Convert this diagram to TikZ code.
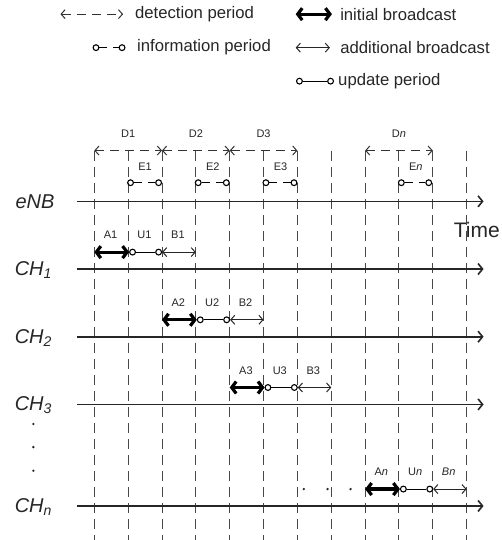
\documentclass[tikz,border=0pt]{standalone}
\usepackage{fontspec}
\setmainfont{Liberation Sans}
\usetikzlibrary{arrows.meta}

\begin{document}
\begin{tikzpicture}[x=33.85pt, y=33.85pt,
        vline/.style={black!72, line width=1pt, dash pattern=on 10pt off 6pt},
        timeaxis/.style={black!85, line width=1.6pt, -{Straight Barb[length=4.5pt,width=11pt]}},
        initial/.style={black, line width=3.2pt, {Straight Barb[length=4.5pt,width=12pt]}-{Straight Barb[length=4.5pt,width=12pt]}},
        additional/.style={black!85, line width=1pt, {Straight Barb[length=4pt,width=9pt]}-{Straight Barb[length=4pt,width=9pt]}},
        detect/.style={black!80, line width=1pt, dash pattern=on 9pt off 6pt, {Straight Barb[length=4pt,width=9pt]}-{Straight Barb[length=4pt,width=9pt]}},
        info/.style={black, line width=1.1pt, dash pattern=on 8pt off 6pt},
        update/.style={black, line width=1.1pt},
        ring/.style={circle, draw=black, line width=1.1pt, inner sep=0pt, minimum size=5.8pt},
        lbl/.style={font=\fontsize{11}{13}\selectfont, text=black!85, inner sep=0pt},
        legend/.style={font=\fontsize{16.7}{20}\selectfont, text=black!85, anchor=west, inner sep=0pt},
        chan/.style={font=\fontsize{20}{24}\selectfont\itshape, text=black!85, inner sep=0pt}
    ] %timing
    \useasboundingbox (-2.786,-1.005) rectangle (12.044,14.948);

    % legend
    \draw[detect] (-1.0,14.53) -- (0.85,14.53);
    \node[legend] (ldetect) at (1.2,14.53) {detection period};
    \node[ring] (linfol) at (0.05,13.54) {};
    \node[ring] (linfor) at (0.82,13.54) {};
    \draw[info] (linfol) -- (linfor);
    \node[legend] (linfo) at (1.26,13.54) {information period};
    \draw[initial] (5.95,14.53) -- (7.02,14.53);
    \node[legend] (linitial) at (7.26,14.53) {initial broadcast};
    \draw[additional] (5.95,13.54) -- (6.96,13.54);
    \node[legend] (ladd) at (7.26,13.54) {additional broadcast};
    \node[ring] (lupdl) at (6.06,12.55) {};
    \node[ring] (lupdr) at (6.98,12.55) {};
    \draw[update] (lupdl) -- (lupdr);
    \node[legend] (lupdate) at (7.2,12.55) {update period};

    % columns
    \draw[vline] (0,10.5) -- (0,-1.1);
    \draw[vline] (1,10.5) -- (1,-1.1);
    \draw[vline] (2,10.5) -- (2,-1.1);
    \draw[vline] (3,10.5) -- (3,-1.1);
    \draw[vline] (4,10.5) -- (4,-1.1);
    \draw[vline] (5,10.5) -- (5,-1.1);
    \draw[vline] (6,10.5) -- (6,-1.1);
    \draw[vline] (7,10.5) -- (7,-1.1);
    \draw[vline] (8,10.5) -- (8,-1.1);
    \draw[vline] (9,10.5) -- (9,-1.1);
    \draw[vline] (10,10.5) -- (10,-1.1);
    \draw[vline] (11,10.5) -- (11,-1.1);

    % time axes
    \draw[timeaxis] (-0.5,9) -- (11.5,9);
    \draw[timeaxis] (-0.5,7) -- (11.5,7);
    \draw[timeaxis] (-0.5,5) -- (11.5,5);
    \draw[timeaxis] (-0.5,3) -- (11.5,3);
    \draw[timeaxis] (-0.5,0) -- (11.5,0);

    \node[chan] (enb) at (-1.75,9) {eNB};
    \node[chan] (ch1) at (-1.8,6.97) {CH\textsubscript{1}};
    \node[chan] (ch2) at (-1.8,4.97) {CH\textsubscript{2}};
    \node[chan] (ch3) at (-1.8,2.97) {CH\textsubscript{3}};
    \node[chan] (chn) at (-1.8,-0.03) {CH\textsubscript{\itshape n}};
    \node[font=\fontsize{21}{24}\selectfont, text=black!85, inner sep=0pt] (time) at (11.3,8.15) {Time};

    \fill[black!85] (-1.8,2.42) circle (1.3pt);
    \fill[black!85] (-1.8,1.74) circle (1.3pt);
    \fill[black!85] (-1.8,1.04) circle (1.3pt);

    % detection periods
    \draw[detect] (0,10.5) -- (2,10.5);
    \draw[detect] (2,10.5) -- (4,10.5);
    \draw[detect] (4,10.5) -- (6,10.5);
    \draw[detect] (8,10.5) -- (10,10.5);
    \node[lbl] (d1) at (1,11) {D1};
    \node[lbl] (d2) at (3,11) {D2};
    \node[lbl] (d3) at (5,11) {D3};
    \node[lbl] (dn) at (9,11) {D\textit{n}};

    % information periods
    \node[ring] (e1l) at (1.07,9.55) {};
    \node[ring] (e1r) at (1.9,9.55) {};
    \draw[info] (e1l) -- (e1r);
    \node[ring] (e2l) at (3.07,9.55) {};
    \node[ring] (e2r) at (3.9,9.55) {};
    \draw[info] (e2l) -- (e2r);
    \node[ring] (e3l) at (5.07,9.55) {};
    \node[ring] (e3r) at (5.9,9.55) {};
    \draw[info] (e3l) -- (e3r);
    \node[ring] (enl) at (9.07,9.55) {};
    \node[ring] (enr) at (9.88,9.55) {};
    \draw[info] (enl) -- (enr);
    \node[lbl] (e1) at (1.5,10.02) {E1};
    \node[lbl] (e2) at (3.5,10.02) {E2};
    \node[lbl] (e3) at (5.5,10.02) {E3};
    \node[lbl] (en) at (9.5,10.02) {E\textit{n}};

    % CH1
    \node[ring] (u1l) at (1.13,7.5) {};
    \node[ring] (u1r) at (1.9,7.5) {};
    \draw[initial] (0,7.5) -- (u1l);
    \draw[update] (u1l) -- (u1r);
    \draw[additional] (u1r.east) -- (3,7.5);
    \node[lbl] (a1) at (0.48,8.01) {A1};
    \node[lbl] (u1) at (1.48,8.01) {U1};
    \node[lbl] (b1) at (2.47,8.01) {B1};

    % CH2
    \node[ring] (u2l) at (3.13,5.5) {};
    \node[ring] (u2r) at (3.91,5.5) {};
    \draw[initial] (2,5.5) -- (u2l);
    \draw[update] (u2l) -- (u2r);
    \draw[additional] (u2r.east) -- (5,5.5);
    \node[lbl] (a2) at (2.48,6.01) {A2};
    \node[lbl] (u2) at (3.48,6.01) {U2};
    \node[lbl] (b2) at (4.47,6.01) {B2};

    % CH3
    \node[ring] (u3l) at (5.13,3.5) {};
    \node[ring] (u3r) at (5.91,3.5) {};
    \draw[initial] (4,3.5) -- (u3l);
    \draw[update] (u3l) -- (u3r);
    \draw[additional] (u3r.east) -- (7,3.5);
    \node[lbl] (a3) at (4.48,4.01) {A3};
    \node[lbl] (u3) at (5.48,4.01) {U3};
    \node[lbl] (b3) at (6.47,4.01) {B3};

    % CHn
    \fill[black!85] (6.19,0.5) circle (1.3pt);
    \fill[black!85] (6.89,0.5) circle (1.3pt);
    \fill[black!85] (7.57,0.5) circle (1.3pt);
    \node[ring] (unl) at (9.13,0.5) {};
    \node[ring] (unr) at (9.91,0.5) {};
    \draw[initial] (8,0.5) -- (unl);
    \draw[update] (unl) -- (unr);
    \draw[additional] (unr.east) -- (11,0.5);
    \node[lbl] (an) at (8.48,1.01) {A\textit{n}};
    \node[lbl] (un) at (9.48,1.01) {U\textit{n}};
    \node[lbl] (bn) at (10.47,1.01) {\textit{Bn}};
\end{tikzpicture}
\end{document}
